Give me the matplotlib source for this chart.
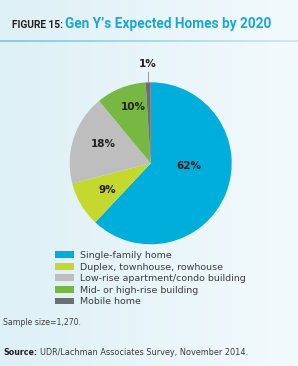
import numpy as np
import matplotlib.pyplot as plt
from matplotlib.patches import Patch
from matplotlib.colors import LinearSegmentedColormap

# data
categories = ["Single-family home", "Duplex, townhouse, rowhouse",
              "Low-rise apartment/condo building", "Mid- or high-rise building",
              "Mobile home"]
shares = [62, 9, 18, 10, 1]
colors = ["#00aedb", "#c4d82e", "#bebebe", "#77b843", "#6d6e71"]

W, H = 298, 366
fig = plt.figure(figsize=(W / 100, H / 100), dpi=100)
renderer = fig.canvas.get_renderer()


def fit_width(txt, target_px):
    # shrink / grow the font so the text spans target_px pixels
    w = txt.get_window_extent(renderer).width
    txt.set_fontsize(txt.get_fontsize() * target_px / w)


# background gradient
bg = fig.add_axes([0, 0, 1, 1])
grad = np.linspace(0, 1, 256).reshape(1, -1)
cmap = LinearSegmentedColormap.from_list("bg", ["#ddf0f6", "#f3fafd"])
bg.imshow(grad, aspect="auto", cmap=cmap, extent=[0, 1, 0, 1])
bg.set_xlim(0, 1)
bg.set_ylim(0, 1)
bg.axis("off")

# header line
line_cmap = LinearSegmentedColormap.from_list("ln", ["#7ccfe9", "#cbeaf4"])
bg.imshow(grad, aspect="auto", cmap=line_cmap,
          extent=[0, 1, 1 - 42 / H, 1 - 40 / H], zorder=2)

t1 = fig.text(12 / W, 1 - 28 / H, "FIGURE 15:", fontsize=7.5, fontweight="bold",
              color="#231f20", family="Roboto", va="baseline")
fit_width(t1, 51)
t2 = fig.text(65 / W, 1 - 28 / H, "Gen Y\u2019s Expected Homes by 2020", fontsize=11,
              fontweight="bold", color="#1aa7d2", family="Roboto", va="baseline")
fit_width(t2, 205)

# pie
r_px = 81
cx, cy = 150.7, 163.3
ax = fig.add_axes([(cx - r_px) / W, 1 - (cy + r_px) / H, 2 * r_px / W, 2 * r_px / H])
wedges, texts, autotexts = ax.pie(shares, colors=colors, startangle=90, counterclock=False,
                                  autopct="%d%%", pctdistance=0.63,
                                  wedgeprops=dict(linewidth=0))
ax.set_xlim(-1, 1)
ax.set_ylim(-1, 1)
ax.set_aspect("auto")

label_dist = [0.47, 0.63, 0.63, 0.73, 1.23]
label_turn = [18, 1, -4, -4, 0]
for w, t, d, a in zip(wedges, autotexts, label_dist, label_turn):
    mid = np.deg2rad((w.theta1 + w.theta2) / 2 + a)
    if d > 1:
        mid = np.deg2rad(92)
    t.set_position((d * np.cos(mid), d * np.sin(mid)))
    t.set_fontsize(7.5)
    t.set_fontweight("bold")
    t.set_color("#231f20")
    t.set_ha("center")
    t.set_va("center")
    t.set_clip_on(False)

ax.plot([-0.03, -0.03], [1.0, 1.13], color="#a0a0a0", lw=0.8, clip_on=False)

# legend
handles = [Patch(facecolor=c, edgecolor="none") for c in colors]
fig.legend(handles, categories, loc="upper left",
           bbox_to_anchor=(55 / W, 1 - 251 / H), frameon=False,
           fontsize=6.8, labelcolor="#3d3d3d", handlelength=2.0, handleheight=0.72,
           handletextpad=0.6, labelspacing=0.27, borderpad=0, borderaxespad=0)

fig.text(3 / W, 1 - 322.5 / H, "Sample size=1,270.", fontsize=5.6, color="#3d3d3d",
         va="center")
s1 = fig.text(3 / W, 1 - 352.5 / H, "Source:", fontsize=5.7, fontweight="bold",
              color="#231f20", va="center")
x_end = s1.get_window_extent(renderer).x1
s2 = fig.text((x_end + 3) / W, 1 - 352.5 / H, "UDR/Lachman Associates Survey, November 2014.",
              fontsize=5.7, color="#3d3d3d", va="center")
fit_width(s2, 245 - (x_end + 3))

fig.savefig("out.png", dpi=100)
